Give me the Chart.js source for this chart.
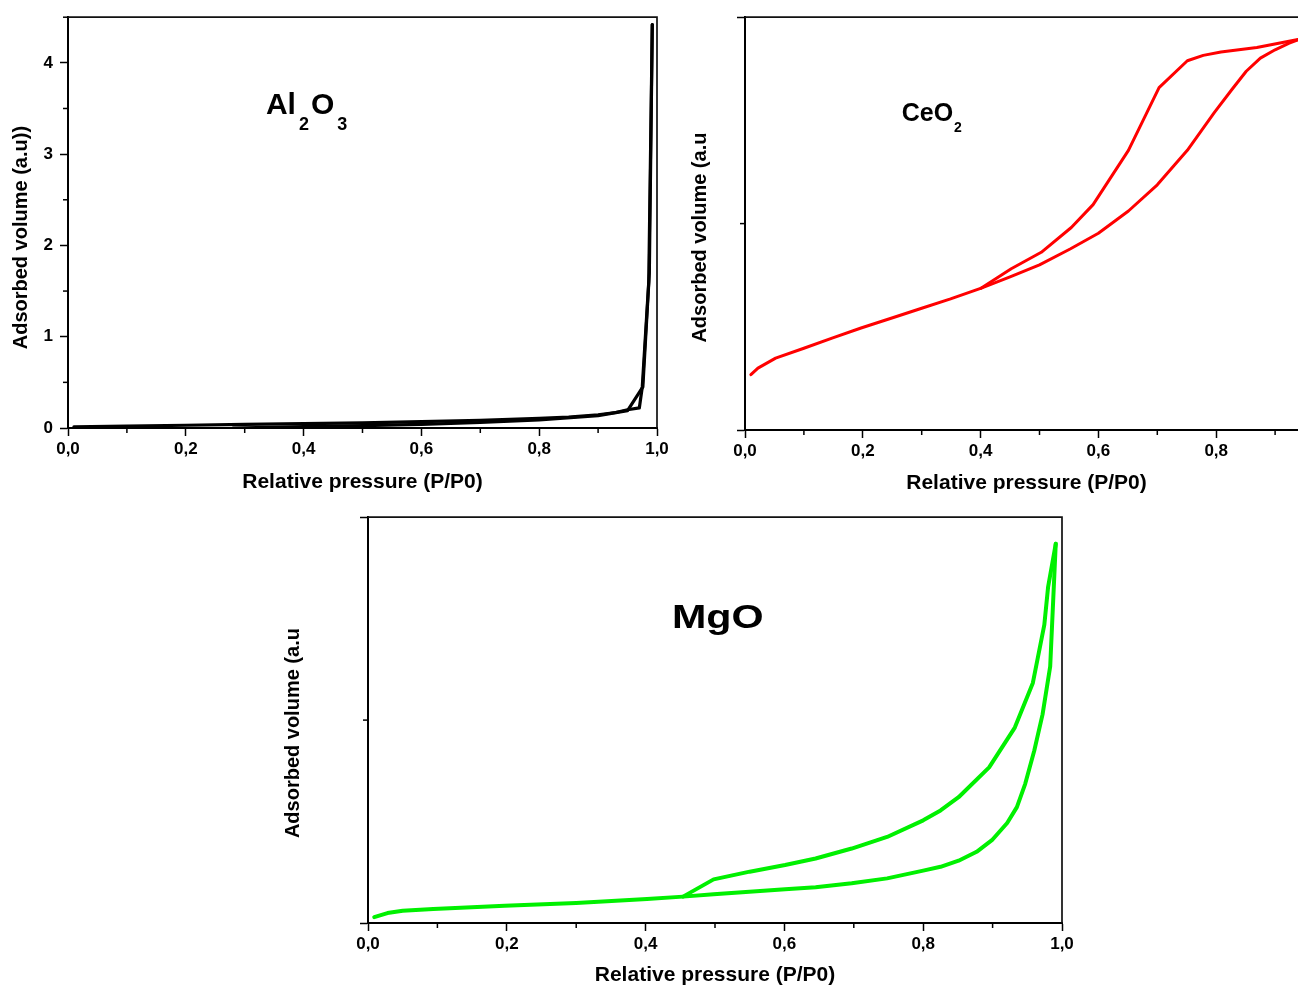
<!DOCTYPE html>
<html><head><meta charset="utf-8">
<script src="https://cdn.jsdelivr.net/npm/chart.js@4.4.0/dist/chart.umd.min.js"></script>
<style>
html,body{margin:0;padding:0;background:#fff;overflow:hidden;width:1298px;height:986px;position:relative;}
.box{position:absolute;}
</style></head><body>
<div class="box" style="left:0;top:0;width:680px;height:500px"><canvas id="c1"></canvas></div>
<div class="box" style="left:680px;top:0;width:680px;height:500px"><canvas id="c2"></canvas></div>
<div class="box" style="left:280px;top:500px;width:800px;height:486px"><canvas id="c3"></canvas></div>
<script>
// ---------- data (relative pressure P/P0, adsorbed volume a.u.) ----------
const xTickLabels = ['0,0', '0,2', '0,4', '0,6', '0,8', '1,0'];
const xMinorTicks = [0.1, 0.3, 0.5, 0.7, 0.9];

// Al2O3
const al2o3AdsX = [0.010, 0.100, 0.200, 0.300, 0.400, 0.500, 0.600, 0.700, 0.800, 0.850, 0.900, 0.930, 0.950, 0.970, 0.975, 0.986, 0.992];
const al2o3AdsY = [0.012, 0.020, 0.030, 0.040, 0.048, 0.057, 0.070, 0.085, 0.105, 0.120, 0.145, 0.170, 0.200, 0.220, 0.450, 1.600, 4.420];
const al2o3DesX = [0.992, 0.987, 0.976, 0.950, 0.900, 0.800, 0.700, 0.600, 0.500, 0.400, 0.280];
const al2o3DesY = [4.420, 1.700, 0.450, 0.190, 0.135, 0.090, 0.060, 0.040, 0.025, 0.015, 0.000];
const al2o3YTickLabels = ['0', '1', '2', '3', '4'];
const al2o3YMinor = [0.5, 1.5, 2.5, 3.5, 4.5];

// CeO2
const ceo2AdsX = [0.010, 0.022, 0.052, 0.100, 0.149, 0.197, 0.252, 0.300, 0.349, 0.400, 0.450, 0.500, 0.552, 0.600, 0.651, 0.700, 0.751, 0.797, 0.827, 0.851, 0.875, 0.900, 0.924, 0.941, 0.970, 0.990];
const ceo2AdsY = [0.268, 0.300, 0.348, 0.396, 0.446, 0.494, 0.545, 0.590, 0.635, 0.686, 0.742, 0.800, 0.877, 0.953, 1.061, 1.188, 1.355, 1.539, 1.651, 1.738, 1.802, 1.842, 1.874, 1.893, 1.905, 1.915];
const ceo2DesX = [0.990, 0.970, 0.941, 0.869, 0.808, 0.778, 0.751, 0.703, 0.651, 0.591, 0.554, 0.503, 0.452, 0.400];
const ceo2DesY = [1.915, 1.905, 1.893, 1.853, 1.831, 1.815, 1.789, 1.659, 1.355, 1.092, 0.981, 0.861, 0.781, 0.686];
const ceo2YMinor = [1];

// MgO
const mgoAdsX = [0.009, 0.028, 0.050, 0.094, 0.197, 0.300, 0.402, 0.454, 0.498, 0.601, 0.645, 0.697, 0.748, 0.800, 0.825, 0.851, 0.877, 0.899, 0.921, 0.935, 0.947, 0.960, 0.972, 0.983, 0.991];
const mgoAdsY = [0.029, 0.049, 0.060, 0.069, 0.085, 0.098, 0.118, 0.130, 0.142, 0.166, 0.176, 0.196, 0.220, 0.258, 0.277, 0.307, 0.351, 0.408, 0.493, 0.571, 0.686, 0.849, 1.028, 1.265, 1.869];
const mgoDesX = [0.991, 0.980, 0.9745, 0.958, 0.932, 0.895, 0.851, 0.825, 0.800, 0.748, 0.697, 0.645, 0.601, 0.550, 0.498, 0.454];
const mgoDesY = [1.869, 1.657, 1.469, 1.183, 0.963, 0.767, 0.620, 0.555, 0.506, 0.424, 0.367, 0.318, 0.286, 0.253, 0.215, 0.130];
const mgoYMinor = [1];

// ---------- helpers ----------
const FONT = '"Liberation Sans", Arial, Helvetica, sans-serif';
function pts(xs, ys) { return xs.map((x, i) => ({ x: x, y: ys[i] })); }

const decorPlugin = {
  id: 'decor',
  afterDraw(chart, args, o) {
    const { ctx, chartArea: a, scales } = chart;
    ctx.save();
    // frame (top + right)
    ctx.strokeStyle = '#111';
    ctx.lineWidth = 1.7;
    ctx.beginPath();
    ctx.moveTo(a.left, a.top); ctx.lineTo(a.right, a.top); ctx.lineTo(a.right, a.bottom);
    ctx.stroke();
    // minor ticks
    ctx.strokeStyle = '#000';
    ctx.lineWidth = 1.5;
    (o.xMinor || []).forEach(v => {
      const px = scales.x.getPixelForValue(v);
      ctx.beginPath(); ctx.moveTo(px, a.bottom); ctx.lineTo(px, a.bottom + 5); ctx.stroke();
    });
    (o.yMinor || []).forEach(v => {
      const py = scales.y.getPixelForValue(v);
      ctx.beginPath(); ctx.moveTo(a.left, py); ctx.lineTo(a.left - 5, py); ctx.stroke();
    });
    // axis titles
    ctx.fillStyle = '#000';
    ctx.textAlign = 'center';
    ctx.textBaseline = 'middle';
    ctx.font = 'bold 21px ' + FONT;
    ctx.fillText(o.xTitle, (a.left + a.right) / 2 + o.xTitleDx, a.bottom + o.xTitleDy);
    ctx.save();
    ctx.font = 'bold 20px ' + FONT;
    ctx.translate(a.left - o.yTitleDx, (a.top + a.bottom) / 2 + o.yTitleDy);
    ctx.rotate(-Math.PI / 2);
    ctx.fillText(o.yTitle, 0, 0);
    ctx.restore();
    // compound label
    const L = o.label;
    if (L) {
      ctx.save();
      ctx.translate(scales.x.getPixelForValue(L.x), scales.y.getPixelForValue(L.y));
      ctx.scale(L.sx || 1, 1);
      ctx.textAlign = 'left';
      ctx.textBaseline = 'alphabetic';
      let pos = 0;
      L.parts.forEach(p => {
        const sub = p[1];
        ctx.font = 'bold ' + (sub ? L.subSize : L.size) + 'px ' + FONT;
        ctx.fillText(p[0], pos, sub ? L.drop : 0);
        pos += ctx.measureText(p[0]).width + (sub ? L.gap : L.gap + 1);
      });
      ctx.restore();
    }
    ctx.restore();
  }
};

function makeChart(id, c) {
  const tickFont = { family: FONT, size: 17, weight: 'bold' };
  const ds = (xs, ys) => ({
    data: pts(xs, ys), showLine: true, borderColor: c.color, backgroundColor: c.color,
    borderWidth: c.lw, pointRadius: 0, tension: 0, fill: false, borderJoinStyle: 'round', borderCapStyle: 'round'
  });
  return new Chart(document.getElementById(id), {
    type: 'scatter',
    data: { datasets: [ds(c.adsX, c.adsY), ds(c.desX, c.desY)] },
    options: {
      responsive: true, maintainAspectRatio: false, animation: false,
      layout: { padding: { top: c.padTop, right: c.padRight, left: 0, bottom: 0 } },
      plugins: {
        legend: { display: false }, tooltip: { enabled: false },
        decor: c.decor
      },
      scales: {
        x: {
          type: 'linear', min: 0, max: 1,
          ticks: { stepSize: 0.2, autoSkip: false, maxRotation: 0, padding: 3, color: '#000', font: tickFont,
                   callback: (v, i) => xTickLabels[i] },
          grid: { display: true, drawOnChartArea: false, drawTicks: true, tickLength: 8, tickColor: '#000', tickWidth: 1.5 },
          border: { display: true, color: '#000', width: 2 },
          afterFit: s => { s.height = c.xH; }
        },
        y: {
          type: 'linear', min: 0, max: c.yMax,
          ticks: { stepSize: c.yStep, includeBounds: c.yBounds, autoSkip: false, padding: 7, color: '#000', font: tickFont,
                   callback: (v, i) => (c.yLabels ? c.yLabels[i] : '') },
          grid: { display: true, drawOnChartArea: false, drawTicks: true, tickLength: 8, tickColor: '#000', tickWidth: 1.5 },
          border: { display: true, color: '#000', width: 2 },
          afterFit: s => { s.width = c.yW; }
        }
      }
    },
    plugins: [decorPlugin]
  });
}

makeChart('c1', {
  adsX: al2o3AdsX, adsY: al2o3AdsY, desX: al2o3DesX, desY: al2o3DesY,
  color: '#000000', lw: 3.2, padTop: 14, padRight: 23, xH: 72, yW: 68,
  yMax: 4.5, yStep: 1, yBounds: false, yLabels: al2o3YTickLabels,
  decor: {
    xMinor: xMinorTicks, yMinor: al2o3YMinor,
    xTitle: 'Relative pressure (P/P0)', xTitleDx: 0, xTitleDy: 54,
    yTitle: 'Adsorbed volume (a.u))', yTitleDx: 47, yTitleDy: 15,
    label: { x: 0.336, y: 3.44, size: 30, subSize: 18, drop: 16, sx: 1, gap: 2,
             parts: [['Al', 0], ['2', 1], ['O', 0], ['3', 1]] }
  }
});

makeChart('c2', {
  adsX: ceo2AdsX, adsY: ceo2AdsY, desX: ceo2DesX, desY: ceo2DesY,
  color: '#ff0000', lw: 3, padTop: 12, padRight: 26, xH: 70, yW: 65,
  yMax: 2, yStep: 2, yBounds: true, yLabels: null,
  decor: {
    xMinor: xMinorTicks, yMinor: ceo2YMinor,
    xTitle: 'Relative pressure (P/P0)', xTitleDx: -13, xTitleDy: 53,
    yTitle: 'Adsorbed volume (a.u', yTitleDx: 45, yTitleDy: 14,
    label: { x: 0.266, y: 1.499, size: 25, subSize: 14, drop: 11, sx: 1, gap: 0,
             parts: [['CeO', 0], ['2', 1]] }
  }
});

makeChart('c3', {
  adsX: mgoAdsX, adsY: mgoAdsY, desX: mgoDesX, desY: mgoDesY,
  color: '#00f000', lw: 4, padTop: 15, padRight: 18, xH: 63, yW: 88,
  yMax: 2, yStep: 2, yBounds: true, yLabels: null,
  decor: {
    xMinor: xMinorTicks, yMinor: mgoYMinor,
    xTitle: 'Relative pressure (P/P0)', xTitleDx: 0, xTitleDy: 52,
    yTitle: 'Adsorbed volume (a.u', yTitleDx: 75, yTitleDy: 13,
    label: { x: 0.438, y: 1.455, size: 33, subSize: 17, drop: 12, sx: 1.25, gap: 0,
             parts: [['MgO', 0]] }
  }
});
</script>
</body></html>
